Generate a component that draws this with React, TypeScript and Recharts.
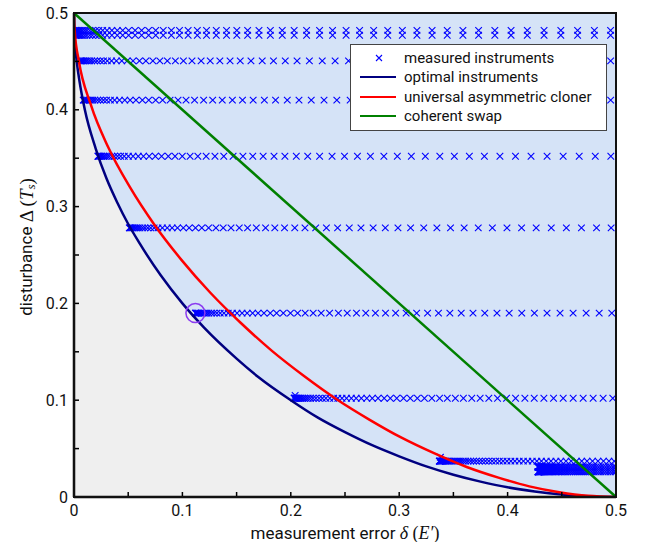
import React from 'react';
import {
  ComposedChart,
  XAxis,
  YAxis,
  Line,
  Area,
  Scatter,
  ReferenceArea,
  ReferenceDot,
  Legend,
  Label,
} from 'recharts';

// optimal instruments (navy)
const optimalDelta = [0, 0.0002, 0.0005, 0.001, 0.0025, 0.005, 0.01, 0.02, 0.03, 0.04, 0.05, 0.06, 0.08, 0.1, 0.12, 0.15, 0.17, 0.2, 0.225, 0.25, 0.275, 0.3, 0.325, 0.35, 0.375, 0.4, 0.425, 0.45, 0.475, 0.5];
const optimalDist = [0.5, 0.486, 0.478, 0.468, 0.45, 0.43, 0.4, 0.36, 0.329, 0.304, 0.282, 0.263, 0.229, 0.2, 0.175, 0.143, 0.124, 0.1, 0.082, 0.067, 0.0535, 0.042, 0.0316, 0.023, 0.0159, 0.01, 0.0057, 0.0025, 0.0006, 0];

// universal asymmetric cloner (red)
const clonerDelta = [0, 0.0002, 0.00075, 0.0044, 0.0156, 0.0317, 0.0516, 0.0743, 0.0991, 0.1258, 0.1537, 0.1826, 0.2122, 0.2422, 0.2724, 0.3026, 0.3326, 0.3623, 0.3915, 0.42, 0.4477, 0.4744, 0.5];
const clonerDist = [0.5, 0.49, 0.48, 0.451, 0.405, 0.361, 0.32, 0.281, 0.245, 0.211, 0.18, 0.151, 0.125, 0.101, 0.08, 0.061, 0.045, 0.031, 0.02, 0.011, 0.005, 0.00125, 0];

// coherent swap (green)
const swapDelta = [0, 0.5];
const swapDist = [0.5, 0];

// measured instruments: one row per disturbance level
const rowDist = [0.482, 0.477, 0.4505, 0.41, 0.352, 0.278, 0.19, 0.102, 0.037, 0.031, 0.026];
const rowStart = [0.001, 0.001, 0.0055, 0.0085, 0.022, 0.051, 0.112, 0.203, 0.337, 0.428, 0.428];
// relative position of each marker between a row's start and δ = 0.5
const stepFraction = [0, 0.001, 0.002, 0.004, 0.006, 0.008, 0.011, 0.014, 0.018, 0.022, 0.027, 0.032, 0.038, 0.044, 0.051, 0.059, 0.068, 0.078, 0.088, 0.099, 0.111, 0.123, 0.136, 0.149, 0.163, 0.178, 0.193, 0.209, 0.226, 0.243, 0.261, 0.28, 0.299, 0.319, 0.34, 0.361, 0.383, 0.405, 0.428, 0.452, 0.476, 0.501, 0.526, 0.552, 0.578, 0.605, 0.632, 0.66, 0.688, 0.717, 0.746, 0.776, 0.806, 0.836, 0.867, 0.898, 0.929, 0.96, 0.99];
const extraDelta = [0.204, 0.338];
const extraDist = [0.105, 0.041];

const highlightDelta = 0.112;
const highlightDist = 0.19;

const axisTicks = [0, 0.05, 0.1, 0.15, 0.2, 0.25, 0.3, 0.35, 0.4, 0.45, 0.5];

const legendLabels = ['measured instruments', 'optimal instruments', 'universal asymmetric cloner', 'coherent swap'];
const legendColors = ['#0000ff', '#000080', '#ff0000', '#008000'];

const toPoints = (xs: number[], ys: number[]) => xs.map((x, i) => ({ x, y: ys[i] }));

const optimalPoints = toPoints(optimalDelta, optimalDist);
const clonerPoints = toPoints(clonerDelta, clonerDist);
const swapPoints = toPoints(swapDelta, swapDist);
const measuredPoints = rowDist
  .flatMap((d, r) => stepFraction.map((f) => ({ x: rowStart[r] + (0.5 - rowStart[r]) * f, y: d })))
  .concat(toPoints(extraDelta, extraDist));

const FONT = 'Roboto, "Liberation Sans", sans-serif';
const MATH = '"Liberation Serif", "DejaVu Serif", serif';

const tickFmt = (v: number) => {
  const r = Math.round(v * 100);
  if (r % 10 !== 0) return '';
  return r === 0 ? '0' : (r / 100).toString();
};

const Cross = (props: any) => {
  const { cx, cy } = props;
  if (cx == null || cy == null) return null;
  const s = 3.3;
  return (
    <path
      d={`M${cx - s},${cy - s}L${cx + s},${cy + s}M${cx - s},${cy + s}L${cx + s},${cy - s}`}
      stroke="#0000ff"
      strokeWidth={1.1}
      fill="none"
    />
  );
};

const XLabel = ({ viewBox }: any) => {
  const cx = viewBox.x + viewBox.width / 2;
  return (
    <text x={cx} y={539} textAnchor="middle" fontSize={17} fontFamily={FONT} fill="#111">
      measurement error{' '}
      <tspan fontFamily={MATH} fontStyle="italic" fontSize={18}>δ</tspan>
      <tspan fontFamily={MATH} fontSize={18}> (</tspan>
      <tspan fontFamily={MATH} fontStyle="italic" fontSize={18}>E′</tspan>
      <tspan fontFamily={MATH} fontSize={18}>)</tspan>
    </text>
  );
};

const YLabel = () => {
  const cx = 26;
  const cy = 247;
  return (
    <text
      x={cx}
      y={cy}
      transform={`rotate(-90 ${cx} ${cy})`}
      textAnchor="middle"
      dominantBaseline="central"
      fontSize={17}
      fontFamily={FONT}
      fill="#111"
    >
      disturbance{' '}
      <tspan fontFamily={MATH} fontSize={19}>Δ (</tspan>
      <tspan fontFamily={MATH} fontStyle="italic" fontSize={19}>T</tspan>
      <tspan fontFamily={MATH} fontStyle="italic" fontSize={13} dy={4}>s</tspan>
      <tspan fontFamily={MATH} fontSize={19} dy={-4}>)</tspan>
    </text>
  );
};

const renderLegend = () => (
  <div
    style={{
      background: '#fff',
      border: '1px solid #444',
      boxSizing: 'border-box',
      width: 257,
      padding: '3px 0 4px 0',
      fontFamily: FONT,
      fontSize: 15,
      color: '#111',
    }}
  >
    {legendLabels.map((name, i) => (
      <div key={name} style={{ display: 'flex', alignItems: 'center', height: 19.5 }}>
        <svg width={53} height={12} style={{ flex: 'none' }}>
          {i === 0 ? (
            <path d="M25,3L31,9M25,9L31,3" stroke={legendColors[i]} strokeWidth={1.1} fill="none" />
          ) : (
            <line x1={9} x2={45} y1={6} y2={6} stroke={legendColors[i]} strokeWidth={2} />
          )}
        </svg>
        <span style={{ whiteSpace: 'nowrap' }}>{name}</span>
      </div>
    ))}
  </div>
);

export default function App() {
  return (
    <div style={{ position: 'absolute', left: 0, top: 0, background: '#fff' }}>
      <ComposedChart width={649} height={542} margin={{ top: 13, right: 33, bottom: 0, left: 14 }}>
        <XAxis
          dataKey="x"
          type="number"
          domain={[0, 0.5]}
          ticks={axisTicks}
          tickFormatter={tickFmt}
          allowDataOverflow
          height={45}
          tickSize={-5}
          tickMargin={13}
          axisLine={{ stroke: '#000', strokeWidth: 2.5 }}
          tickLine={{ stroke: '#000', strokeWidth: 1.5 }}
          tick={{ fontSize: 16, fill: '#111', fontFamily: FONT }}
          interval={0}
        >
          <Label content={XLabel} />
        </XAxis>
        <YAxis
          dataKey="y"
          type="number"
          domain={[0, 0.5]}
          ticks={axisTicks}
          tickFormatter={tickFmt}
          allowDataOverflow
          width={60}
          tickSize={-5}
          tickMargin={11}
          axisLine={{ stroke: '#000', strokeWidth: 2.5 }}
          tickLine={{ stroke: '#000', strokeWidth: 1.5 }}
          tick={{ fontSize: 16, fill: '#111', fontFamily: FONT }}
          interval={0}
        >
          <Label content={YLabel} />
        </YAxis>
        <ReferenceArea x1={0} x2={0.5} y1={0} y2={0.5} fill="#d5e3f7" fillOpacity={1} stroke="none" zIndex={-200} />
        <Area
          data={optimalPoints}
          dataKey="y"
          type="monotone"
          stroke="none"
          fill="#efefef"
          fillOpacity={1}
          baseValue={0}
          isAnimationActive={false}
          legendType="none"
          zIndex={-150}
        />
        <Scatter data={measuredPoints} shape={Cross} isAnimationActive={false} zIndex={100} />
        <Line data={optimalPoints} dataKey="y" type="monotone" stroke="#000080" strokeWidth={2.5} dot={false} isAnimationActive={false} zIndex={400} />
        <Line data={clonerPoints} dataKey="y" type="monotone" stroke="#ff0000" strokeWidth={2.5} dot={false} isAnimationActive={false} zIndex={400} />
        <Line data={swapPoints} dataKey="y" type="linear" stroke="#008000" strokeWidth={2.5} dot={false} isAnimationActive={false} zIndex={400} />
        <ReferenceDot x={highlightDelta} y={highlightDist} r={9.5} fill="none" stroke="#8b3cf0" strokeWidth={1.5} zIndex={450} />
        <ReferenceArea x1={0} x2={0.5} y1={0} y2={0.5} fill="none" stroke="#111" strokeWidth={2} zIndex={600} />
        <Legend
          layout="vertical"
          align="center"
          verticalAlign="middle"
          content={renderLegend}
          wrapperStyle={{ left: 350, top: 44, width: 257 }}
        />
      </ComposedChart>
    </div>
  );
}
